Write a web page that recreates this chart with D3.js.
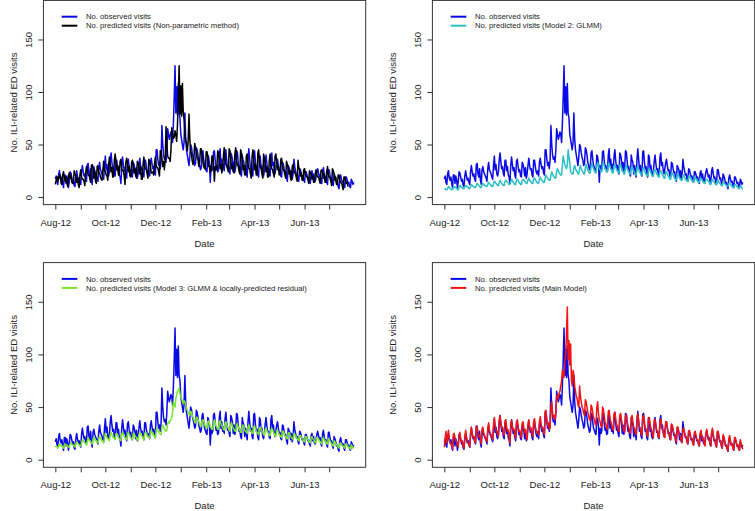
<!DOCTYPE html>
<html><head><meta charset="utf-8">
<script src="https://cdn.jsdelivr.net/npm/d3@7"></script>
<style>body{margin:0;background:#fff}svg{display:block}</style>
</head><body>
<script>
// ---------------- DATA ----------------
const startDate = "2012-08-01"; // daily values, Aug 1 2012 .. Jul 31 2013

const observed = [
17,20,14,12,22,
25,18,16,19,13,9,21,
21,13,20,16,9,15,24,
23,19,15,17,11,10,20,
25,20,16,18,14,12,24,
30,24,20,22,17,15,31,
32,22,19,27,16,12,26,
29,24,22,20,18,15,27,
33,26,24,22,19,17,30,
39,26,31,22,20,24,36,
42,33,27,29,22,20,35,
35,25,29,21,19,13,30,
38,31,25,28,21,18,34,
36,29,24,26,20,19,33,
31,27,20,28,18,22,30,
37,30,26,27,21,19,35,
35,29,24,22,25,20,33,
37,31,27,29,23,21,45,
45,36,30,33,27,35,68,
50,40,36,38,33,45,65,
60,55,58,62,60,52,70,
95,125,80,105,78,108,80,
75,60,55,50,45,52,80,
55,45,40,35,30,38,50,
48,42,38,35,30,32,47,
45,40,33,30,26,28,42,
44,36,30,28,25,24,40,
38,32,14,30,25,27,43,
44,35,28,30,24,25,40,
46,30,36,27,31,25,39,
45,35,28,30,25,22,42,
40,36,25,33,24,28,44,
43,34,27,29,22,20,40,
35,33,22,30,24,19,36,
46,36,27,30,22,20,43,
44,34,27,29,21,19,40,
38,27,30,22,20,25,34,
40,32,26,27,21,20,38,
42,30,33,25,22,27,33,
36,30,25,26,20,19,33,
32,27,23,24,18,15,30,
28,26,19,25,17,22,36,
29,25,21,22,17,15,27,
26,22,19,20,16,14,24,
24,21,18,19,15,13,23,
25,18,22,16,15,19,24,
27,23,19,21,15,13,25,
28,22,18,19,14,12,26,
26,21,17,18,13,11,22,
20,17,13,14,10,8,18,
21,17,14,15,11,9,19,
19,16,13,14,10,9,17,
15,12,14
];

const predNonParametric = [
12,16,19,15,20,
18,21,13,12,21,
24,19,15,19,14,10,20,
23,18,21,14,13,13,25,
22,20,14,18,12,9,21,
26,19,17,17,15,11,23,
29,25,21,21,18,14,30,
31,27,18,25,15,13,29,
30,23,23,19,17,16,26,
34,25,25,21,20,16,31,
38,31,24,28,19,19,35,
41,34,26,30,21,21,34,
36,27,25,25,20,12,33,
37,32,24,29,20,19,33,
35,30,23,27,21,18,34,
33,28,22,29,17,17,31,
38,29,27,26,22,18,36,
34,30,23,23,24,21,32,
38,30,28,28,24,20,44,
44,37,29,34,26,36,67,
51,39,37,37,34,44,66,
59,56,57,63,59,53,69,
96,125,79,106,77,108,81,
74,61,54,51,44,53,79,
56,44,41,34,31,37,51,
47,43,37,36,29,33,46,
46,39,34,29,27,27,43,
43,37,29,29,24,25,39,
39,31,15,29,26,26,44,
43,36,27,31,23,26,39,
47,36,31,30,27,24,46,
44,36,27,31,24,23,41,
47,35,30,30,25,22,45,
42,35,26,30,21,21,39,
41,32,27,27,22,18,39,
45,37,26,31,21,21,42,
45,33,28,28,22,18,41,
37,32,24,29,19,19,35,
41,31,27,26,22,19,39,
41,34,26,29,21,22,36,
37,29,26,25,21,18,34,
31,28,22,25,17,16,29,
31,25,23,22,18,15,35,
28,26,20,23,16,16,26,
27,21,20,19,17,13,25,
23,22,17,20,14,14,22,
26,21,19,19,16,13,25,
26,24,18,22,14,14,24,
29,21,19,18,15,11,27,
25,22,16,19,12,12,21,
21,16,14,13,11,7,19,
19,16,13,14,10
];

const predGLMM = [
8,8,7,7,8,
10,9,8,8,7,7,9,
10,9,9,8,7,7,9,
11,10,9,9,8,8,10,
11,10,10,9,8,8,10,
12,11,10,10,9,9,11,
13,12,11,10,9,9,12,
13,12,11,11,10,10,12,
14,13,12,11,10,10,13,
15,14,13,12,11,11,14,
16,14,13,12,11,11,15,
16,15,14,13,12,12,15,
17,15,14,13,12,12,16,
17,16,14,13,12,12,16,
17,16,15,14,13,13,16,
18,16,15,14,13,13,17,
18,17,15,14,13,13,17,
19,17,16,15,14,14,18,
21,19,18,17,16,16,21,
24,22,20,19,18,18,25,
27,25,23,22,21,21,30,
39,35,31,29,27,30,45,
38,33,24,23,22,22,28,
30,27,25,24,22,22,27,
30,27,25,24,22,22,28,
31,28,26,24,23,23,29,
32,29,27,25,23,23,30,
33,30,27,26,24,24,31,
33,30,27,26,24,24,31,
32,29,27,25,23,23,30,
31,29,26,25,23,23,30,
31,28,26,24,22,22,29,
30,27,25,24,22,22,28,
29,27,25,23,21,21,28,
29,26,24,23,21,21,27,
28,25,23,22,20,20,26,
27,25,23,21,20,20,26,
26,24,22,21,19,19,25,
25,23,21,20,18,18,24,
24,22,20,19,17,17,23,
23,21,19,18,16,16,22,
22,20,18,17,16,16,21,
21,19,17,16,15,15,20,
20,18,17,16,14,14,19,
19,17,16,15,14,14,18,
18,17,15,14,13,13,17,
17,16,15,14,12,12,16,
17,15,14,13,12,12,16,
16,14,13,12,11,11,15,
14,13,12,11,10,10,13,
13,12,11,10,9,9,12,
12,11,10,9,8,8,11,
10,8,7
];

const predGLMMResidual = [
12,13,12,11,13,
15,14,13,13,12,11,14,
15,14,14,13,12,12,15,
16,15,14,14,13,12,15,
17,16,15,14,13,13,16,
19,18,17,16,15,14,18,
21,19,18,17,16,15,20,
21,20,18,18,16,16,20,
22,21,19,18,17,16,21,
25,23,21,20,19,18,24,
26,24,22,21,20,19,25,
25,23,21,20,19,18,24,
26,24,22,21,20,19,25,
26,24,22,21,20,19,25,
25,23,22,21,19,18,24,
26,25,23,22,20,19,25,
26,25,23,22,21,20,25,
28,26,24,23,22,21,28,
30,28,26,25,24,24,31,
33,31,29,28,27,28,34,
36,35,37,38,40,45,55,
52,50,58,62,65,66,68,
63,60,58,55,54,56,55,
52,49,47,45,43,42,46,
45,42,40,38,36,35,40,
40,38,36,34,32,32,37,
38,36,33,32,30,30,36,
37,34,31,30,29,29,35,
38,35,32,31,29,29,36,
37,34,32,31,29,28,35,
36,33,31,30,28,27,34,
35,32,30,29,27,27,33,
34,31,29,28,26,26,32,
33,31,28,27,26,25,31,
33,30,28,27,25,25,31,
32,30,27,26,25,24,30,
31,29,27,26,24,23,29,
30,28,26,25,23,23,28,
30,28,26,25,23,22,28,
28,26,24,23,22,21,27,
27,25,23,22,20,20,25,
26,24,22,21,20,19,25,
24,23,21,20,19,18,23,
23,21,20,19,17,17,22,
22,20,19,18,17,16,21,
22,20,19,18,16,16,21,
21,20,18,17,16,15,20,
21,19,18,17,15,15,20,
19,18,16,15,14,13,18,
17,15,14,13,12,11,15,
16,15,13,13,12,11,15,
15,14,12,12,11,10,14,
13,11,12
];

const predMainModel = [
12,20,27,16,22,
28,20,17,15,13,10,24,
25,21,18,17,14,12,23,
26,20,17,18,13,11,22,
28,22,18,16,15,12,25,
31,25,21,22,18,16,32,
30,26,22,23,19,15,29,
31,25,23,21,19,17,30,
35,28,25,24,21,19,34,
40,32,28,28,24,22,38,
42,35,30,31,25,23,37,
38,31,27,28,22,16,35,
37,32,28,29,24,20,36,
38,31,27,28,23,21,35,
36,30,26,29,22,19,34,
38,32,28,30,24,22,37,
39,32,28,26,27,23,36,
41,34,30,31,26,24,46,
47,38,33,35,29,30,50,
55,45,40,42,38,45,60,
62,58,63,65,70,75,85,
80,78,95,100,120,145,95,
113,90,110,75,70,85,80,
70,65,60,58,52,50,70,
60,55,50,48,44,42,57,
55,50,45,42,38,37,52,
50,45,40,38,34,33,50,
55,44,38,36,32,31,50,
48,42,36,34,30,29,46,
47,40,35,33,29,28,44,
45,39,34,32,28,27,42,
44,38,33,31,27,26,41,
43,37,32,30,26,25,40,
42,36,31,29,25,24,40,
44,37,31,30,25,23,41,
42,36,30,29,24,22,39,
40,34,29,28,23,21,38,
38,33,28,27,22,21,36,
39,33,28,27,22,21,36,
36,31,26,25,21,19,34,
33,29,25,24,19,17,31,
31,27,23,23,18,16,29,
30,26,22,22,17,15,27,
28,24,20,20,16,14,26,
27,23,19,19,15,13,25,
28,23,19,20,15,13,25,
29,24,20,20,15,13,26,
30,24,19,19,14,12,27,
27,22,18,18,13,11,24,
22,18,14,14,10,8,20,
23,18,14,15,11,9,21,
21,17,13,14,10,9,19,
16,13,10
];

const monthTicks = ["2012-08-01","2012-09-01","2012-10-01","2012-11-01","2012-12-01","2013-01-01",
                    "2013-02-01","2013-03-01","2013-04-01","2013-05-01","2013-06-01","2013-07-01"];
const labelledTicks = ["Aug-12","Oct-12","Dec-12","Feb-13","Apr-13","Jun-13"];
const yTicks = [0, 50, 100, 150];
const yLimits = [0, 180];
const observedLabel = "No. observed visits";
const predictedLabels = [
  "No. predicted visits (Non-parametric method)",
  "No. predicted visits (Model 2: GLMM)",
  "No. predicted visits (Model 3: GLMM & locally-predicted residual)",
  "No. predicted visits (Main Model)"
];
const predictedSeries = [predNonParametric, predGLMM, predGLMMResidual, predMainModel];
const yTitle = "No. ILI-related ED visits";
const xTitle = "Date";

// ---------------- STYLE / LAYOUT ----------------
const observedColor = "#0a0ae6";
const predictedColors = ["#000000", "#2bbfc4", "#78e62a", "#f01414"];
const FONT = "'Liberation Sans', Arial, Helvetica, sans-serif";
const layout = [
  {x: 43.4,  y: 0.4,   h: 204.2, yt: -29.4},
  {x: 432.4, y: 0.4,   h: 204.2, yt: -39.4},
  {x: 43.4,  y: 262.6, h: 204.7, yt: -29.4},
  {x: 432.4, y: 262.6, h: 204.7, yt: -39.4}
];
const boxW = 322.3;

const parse = d3.utcParse("%Y-%m-%d");
const fmt = d3.utcFormat("%b-%y");
const t0 = parse(startDate);
const dateAt = i => d3.utcDay.offset(t0, i);
const tEnd = dateAt(observed.length - 1);
const padT = (tEnd - t0) * 0.04;
const padY = (yLimits[1] - yLimits[0]) * 0.04;

const svg = d3.select("body").append("svg").attr("width", 755).attr("height", 511)
  .attr("font-family", FONT);

layout.forEach((L, k) => {
  const g = svg.append("g").attr("transform", `translate(${L.x},${L.y})`);
  const x = d3.scaleUtc().domain([new Date(+t0 - padT), new Date(+tEnd + padT)]).range([0, boxW]);
  const y = d3.scaleLinear().domain([yLimits[0] - padY, yLimits[1] + padY]).range([L.h, 0]);
  const line = d3.line().x((d, i) => x(dateAt(i))).y(d => y(d));

  g.append("path").datum(observed).attr("d", line).attr("fill", "none")
    .attr("stroke", observedColor).attr("stroke-width", 1.5).attr("stroke-linejoin", "round");
  g.append("path").datum(predictedSeries[k]).attr("d", line).attr("fill", "none")
    .attr("stroke", predictedColors[k]).attr("stroke-width", 1.5).attr("stroke-linejoin", "round");

  // x axis
  const xa = g.append("g").attr("transform", `translate(0,${L.h})`)
    .call(d3.axisBottom(x).tickValues(monthTicks.map(parse)).tickSize(5)
      .tickFormat(d => labelledTicks.includes(fmt(d)) ? fmt(d) : ""));
  xa.attr("font-family", FONT).attr("font-size", 9.5);
  xa.select(".domain").remove();
  xa.selectAll("line").attr("stroke", "#333");
  xa.selectAll("text").attr("y", 21).attr("dy", 0).attr("fill", "#222");

  // y axis
  const ya = g.append("g").call(d3.axisLeft(y).tickValues(yTicks).tickSize(5));
  ya.attr("font-family", FONT).attr("font-size", 9.5);
  ya.select(".domain").remove();
  ya.selectAll("line").attr("stroke", "#333");
  ya.selectAll("text").attr("x", null).attr("dy", null)
    .attr("transform", "translate(-11,0) rotate(-90)")
    .attr("text-anchor", "middle").attr("fill", "#222");

  // box
  g.append("rect").attr("x", 0).attr("y", 0).attr("width", boxW).attr("height", L.h)
    .attr("fill", "none").attr("stroke", "#333").attr("stroke-width", 1);

  // titles
  g.append("text").attr("transform", `translate(${L.yt + 3.4},${L.h / 2}) rotate(-90)`)
    .attr("text-anchor", "middle").attr("font-size", 9.5).attr("fill", "#222").text(yTitle);
  g.append("text").attr("x", boxW / 2).attr("y", L.h + 42)
    .attr("text-anchor", "middle").attr("font-size", 9.5).attr("fill", "#222").text(xTitle);

  // legend
  const leg = [[observedLabel, observedColor], [predictedLabels[k], predictedColors[k]]];
  leg.forEach(([lab, col], j) => {
    const ly = 16.3 + j * 9;
    g.append("line").attr("x1", 18.3).attr("x2", 33.9).attr("y1", ly).attr("y2", ly)
      .attr("stroke", col).attr("stroke-width", 2);
    g.append("text").attr("x", 42.6).attr("y", ly).attr("dy", "0.35em")
      .attr("font-size", 7.7).attr("fill", "#222").text(lab);
  });
});
</script>
</body></html>
